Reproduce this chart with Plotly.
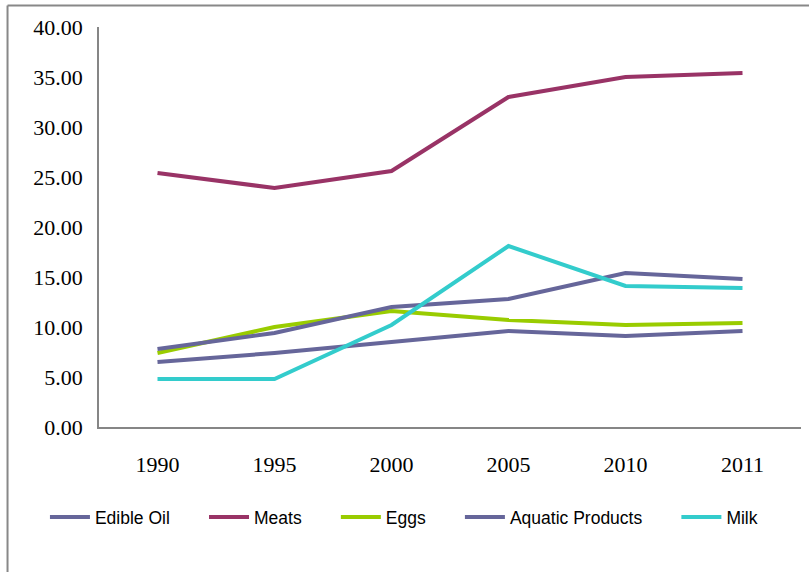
import plotly.graph_objects as go

years = ["1990", "1995", "2000", "2005", "2010", "2011"]
edible_oil = [6.5, 7.4, 8.5, 9.6, 9.1, 9.6]
meats = [25.4, 23.9, 25.6, 33.0, 35.0, 35.4]
eggs = [7.4, 10.0, 11.6, 10.7, 10.2, 10.4]
aquatic = [7.8, 9.4, 12.0, 12.8, 15.4, 14.8]
milk = [4.8, 4.8, 10.2, 18.1, 14.1, 13.9]

series = [
    ("Edible Oil", edible_oil, "#66669A"),
    ("Meats", meats, "#993366"),
    ("Eggs", eggs, "#99CC00"),
    ("Aquatic Products", aquatic, "#66669A"),
    ("Milk", milk, "#33CCCC"),
]

pad = "\u00a0" * 6
fig = go.Figure()
for name, vals, col in series:
    fig.add_trace(go.Scatter(x=years, y=vals, name=name + pad, mode="lines",
                             line=dict(color=col, width=4)))

axis_col = "#868686"
fig.update_layout(
    width=809, height=572,
    margin=dict(l=99, r=8, t=27, b=145),
    paper_bgcolor="white", plot_bgcolor="white",
    showlegend=True,
    legend=dict(orientation="h", x=-0.077, xanchor="left", y=-0.225, yanchor="middle",
                font=dict(family="Liberation Sans", size=17.5, color="black"),
                itemwidth=40, tracegroupgap=0),
    xaxis=dict(type="category", range=[-0.5, 5.5], showgrid=False, zeroline=False,
               showline=True, linecolor=axis_col, linewidth=1.5, ticks="",
               tickfont=dict(family="Liberation Serif", size=22, color="black"),
               ticklabelstandoff=17),
    yaxis=dict(range=[0, 40], dtick=5, tickformat=".2f", showgrid=False, zeroline=False,
               showline=True, linecolor=axis_col, linewidth=1.5, ticks="",
               tickfont=dict(family="Liberation Serif", size=22, color="black"),
               ticklabelstandoff=10),
)

# outer chart border (top and left visible)
fig.add_shape(type="line", xref="paper", yref="paper", x0=-0.1303, x1=1.03,
              y0=1.05375, y1=1.05375, line=dict(color="#888888", width=2))
fig.add_shape(type="line", xref="paper", yref="paper", x0=-0.1303, x1=-0.1303,
              y0=1.05375, y1=-0.4, line=dict(color="#888888", width=2))

fig.write_html("out.html")
